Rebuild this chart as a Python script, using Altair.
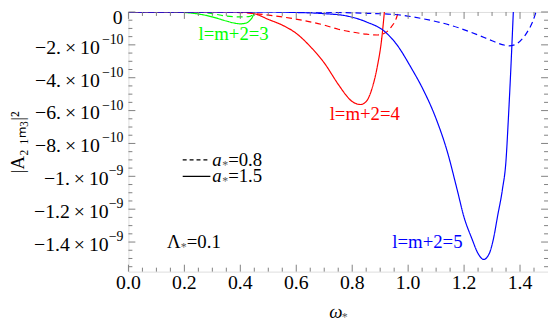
import altair as alt
import pandas as pd

# ---- data (A values in units of 1e-9) ----
# l = m+2 = 3 (green)
g15_x = [0.0, 0.15, 0.20, 0.25, 0.30, 0.35, 0.38, 0.40, 0.42, 0.435, 0.445, 0.45]
g15_y = [0.0, 0.0, -0.003, -0.012, -0.030, -0.055, -0.068, -0.072, -0.068, -0.050, -0.025, 0.0]
g08_x = [0.0, 0.25, 0.30, 0.35, 0.40, 0.43, 0.445, 0.45]
g08_y = [0.0, 0.0, -0.010, -0.025, -0.030, -0.028, -0.015, 0.0]
# l = m+2 = 4 (red)
r15_x = [0.0, 0.40, 0.45, 0.50, 0.55, 0.60, 0.65, 0.70, 0.75, 0.78, 0.80, 0.83, 0.85, 0.87, 0.89, 0.905, 0.915]
r15_y = [0.0, 0.0, -0.010, -0.045, -0.080, -0.130, -0.210, -0.310, -0.440, -0.510, -0.545, -0.563, -0.545, -0.470, -0.330, -0.170, 0.0]
r08_x = [0.0, 0.35, 0.45, 0.55, 0.62, 0.70, 0.75, 0.80, 0.85, 0.89, 0.92, 0.94, 0.955, 0.965]
r08_y = [0.0, 0.0, -0.010, -0.030, -0.050, -0.080, -0.105, -0.122, -0.135, -0.140, -0.125, -0.090, -0.050, 0.0]
# l = m+2 = 5 (blue)
b15_x = [0.0, 0.50, 0.60, 0.70, 0.78, 0.85, 0.917, 0.96, 1.011, 1.05, 1.10, 1.14, 1.175, 1.20, 1.228, 1.25, 1.27, 1.29, 1.305, 1.32, 1.337, 1.35, 1.358, 1.367, 1.376]
b15_y = [0.0, 0.0, -0.003, -0.010, -0.024, -0.060, -0.120, -0.200, -0.340, -0.460, -0.650, -0.850, -1.080, -1.250, -1.380, -1.470, -1.506, -1.470, -1.380, -1.240, -1.080, -0.900, -0.660, -0.350, 0.0]
b08_x = [0.0, 0.60, 0.75, 0.85, 0.95, 1.05, 1.15, 1.25, 1.30, 1.34, 1.36, 1.38, 1.41, 1.43, 1.445, 1.457]
b08_y = [0.0, 0.0, -0.003, -0.008, -0.015, -0.040, -0.080, -0.140, -0.175, -0.200, -0.206, -0.200, -0.160, -0.110, -0.060, 0.0]

x_ticks = [0.0, 0.2, 0.4, 0.6, 0.8, 1.0, 1.2, 1.4]
x_labels = ["0.0", "0.2", "0.4", "0.6", "0.8", "1.0", "1.2", "1.4"]
x_minor = [0.05, 0.1, 0.15, 0.25, 0.3, 0.35, 0.45, 0.5, 0.55, 0.65, 0.7, 0.75,
           0.85, 0.9, 0.95, 1.05, 1.1, 1.15, 1.25, 1.3, 1.35, 1.45]
y_ticks = [0.0, -2e-10, -4e-10, -6e-10, -8e-10, -1e-9, -1.2e-9, -1.4e-9]
y_mant = ["0", "−2.", "−4.", "−6.", "−8.", "−1.", "−1.2", "−1.4"]
y_exp = ["", "−10", "−10", "−10", "−10", "−9", "−9", "−9"]
y_minor = [-0.5e-10, -1e-10, -1.5e-10, -2.5e-10, -3e-10, -3.5e-10, -4.5e-10, -5e-10,
           -5.5e-10, -6.5e-10, -7e-10, -7.5e-10, -8.5e-10, -9e-10, -9.5e-10,
           -1.05e-9, -1.1e-9, -1.15e-9, -1.25e-9, -1.3e-9, -1.35e-9, -1.45e-9,
           -1.5e-9, -1.55e-9]

series = [
    ("3", "0.8", g08_x, g08_y), ("3", "1.5", g15_x, g15_y),
    ("4", "0.8", r08_x, r08_y), ("4", "1.5", r15_x, r15_y),
    ("5", "0.8", b08_x, b08_y), ("5", "1.5", b15_x, b15_y),
]
rows = []
for l, a, xs_, ys_ in series:
    for i, (xv, yv) in enumerate(zip(xs_, ys_)):
        rows.append({"omega": xv, "A": yv * 1e-9, "l": l, "a": a, "key": l + "_" + a, "i": i})
df = pd.DataFrame(rows)

W, H = 425, 263
FONT = "Liberation Serif"
FS = 19
LFS = 20
SUPFS = 14
GRAY = "#808080"

xs = alt.Scale(domain=[0, 1.5], nice=False, zero=False)
ys = alt.Scale(domain=[-1.58e-9, 0], nice=False, zero=False)

lines = alt.Chart(df).mark_line(strokeWidth=1.2, interpolate="monotone", clip=True).encode(
    x=alt.X("omega:Q", scale=xs, axis=None),
    y=alt.Y("A:Q", scale=ys, axis=None),
    color=alt.Color("l:N", scale=alt.Scale(domain=["3", "4", "5"], range=["#00ff00", "#ff0000", "#0000ff"]), legend=None),
    strokeDash=alt.StrokeDash("a:N", scale=alt.Scale(domain=["0.8", "1.5"], range=[[6, 4], [1, 0]]), legend=None),
    detail="key:N",
    order="i:Q",
)

def xtick(vals, ln, top):
    d = pd.DataFrame({"v": vals})
    if top:
        yy, yy2 = alt.value(0), alt.value(ln)
    else:
        yy, yy2 = alt.value(H), alt.value(H - ln)
    return alt.Chart(d).mark_rule(color=GRAY, strokeWidth=1).encode(
        x=alt.X("v:Q", scale=xs, axis=None), y=yy, y2=yy2)

def ytick(vals, ln, right):
    d = pd.DataFrame({"v": vals})
    if right:
        xx, xx2 = alt.value(W), alt.value(W - ln)
    else:
        xx, xx2 = alt.value(0), alt.value(ln)
    return alt.Chart(d).mark_rule(color=GRAY, strokeWidth=1).encode(
        y=alt.Y("v:Q", scale=ys, axis=None), x=xx, x2=xx2)

ticks = [xtick(x_ticks, 7, False), xtick(x_minor, 4, False), xtick(x_ticks, 7, True), xtick(x_minor, 4, True),
         ytick(y_ticks, 7, False), ytick(y_minor, 4, False), ytick(y_ticks, 7, True), ytick(y_minor, 4, True)]

# tick labels
xl = pd.DataFrame({"v": x_ticks, "t": x_labels})
x_lab = alt.Chart(xl).mark_text(font=FONT, fontSize=LFS, color="black", align="center", baseline="middle").encode(
    x=alt.X("v:Q", scale=xs, axis=None), y=alt.value(H + 12), text="t:N")

yl = pd.DataFrame({"v": y_ticks, "m": y_mant, "e": y_exp})
yl["main"] = yl["m"].where(yl["e"] == "", yl["m"] + "\u2009×\u200910")
y_zero = alt.Chart(yl[yl["e"] == ""]).mark_text(font=FONT, fontSize=LFS, color="black", align="right",
                                                baseline="middle", dy=6).encode(
    y=alt.Y("v:Q", scale=ys, axis=None), x=alt.value(-6), text="main:N")
y10 = yl[yl["e"] == "−10"]
y9 = yl[yl["e"] == "−9"]
def ylab(d, main_x):
    m = alt.Chart(d).mark_text(font=FONT, fontSize=LFS, color="black", align="right", baseline="middle", dy=3).encode(
        y=alt.Y("v:Q", scale=ys, axis=None), x=alt.value(main_x), text="main:N")
    s = alt.Chart(d).mark_text(font=FONT, fontSize=SUPFS, color="black", align="right", baseline="middle", dy=-5).encode(
        y=alt.Y("v:Q", scale=ys, axis=None), x=alt.value(-5), text="e:N")
    return [m, s]
y_labs = [y_zero] + ylab(y10, -29) + ylab(y9, -20)

one = pd.DataFrame({"z": [0]})

def txt(s, x, y, color="black", align="center", style="normal", dx=0, dy=0, size=FS):
    return alt.Chart(one).mark_text(text=s, font=FONT, fontSize=size, color=color, align=align,
                                    baseline="middle", fontStyle=style, dx=dx, dy=dy).encode(
        x=alt.X(datum=x, scale=xs, axis=None), y=alt.Y(datum=y, scale=ys, axis=None))

def ptxt(s, px, py, align="center", style="normal", size=FS, angle=0, color="black"):
    return alt.Chart(one).mark_text(text=s, font=FONT, fontSize=size, color=color, align=align,
                                    baseline="middle", fontStyle=style, angle=angle).encode(
        x=alt.value(px), y=alt.value(py))

def seg(x1, x2, y, dash):
    return alt.Chart(one).mark_rule(color="black", strokeWidth=1.2, strokeDash=dash).encode(
        x=alt.X(datum=x1, scale=xs, axis=None), x2=alt.datum(x2), y=alt.Y(datum=y, scale=ys, axis=None))

STAR = 12
SC = "#555555"
annots = [
    txt("l=m+2=3", 0.376, -0.134e-9, "#00ff00"),
    txt("l=m+2=4", 0.845, -0.62e-9, "#ff0000"),
    txt("l=m+2=5", 1.069, -1.40e-9, "#0000ff"),
    txt("Λ", 0.138, -1.40e-9, align="left"),
    txt("*", 0.138, -1.40e-9, align="left", dx=14, dy=5, size=STAR, color=SC),
    txt("=0.1", 0.138, -1.40e-9, align="left", dx=20),
    seg(0.194, 0.293, -0.90e-9, [4, 3]),
    seg(0.194, 0.293, -1.0e-9, [1, 0]),
    txt("a", 0.30, -0.90e-9, align="left", style="italic"),
    txt("*", 0.30, -0.90e-9, align="left", dx=10, dy=5, size=STAR, color=SC),
    txt("=0.8", 0.30, -0.90e-9, align="left", dx=16),
    txt("a", 0.30, -1.0e-9, align="left", style="italic"),
    txt("*", 0.30, -1.0e-9, align="left", dx=10, dy=5, size=STAR, color=SC),
    txt("=1.5", 0.30, -1.0e-9, align="left", dx=16),
    # axis titles
    ptxt("ω", 210, 304, style="italic"),
    ptxt("*", 219, 309, size=STAR, color=SC),
    ptxt("|A₂ ₁ₘ₃|²", -112, 132, angle=270),
]

chart = alt.layer(lines, *ticks, x_lab, *y_labs, *annots).properties(
    width=W, height=H,
    autosize=alt.AutoSizeParams(type="none"),
    padding={"left": 122, "top": 2, "right": 0, "bottom": 50},
).configure_view(stroke=GRAY, strokeWidth=1).configure(background="white")

chart.save("out.html", embed_options={"renderer": "svg", "actions": False})
